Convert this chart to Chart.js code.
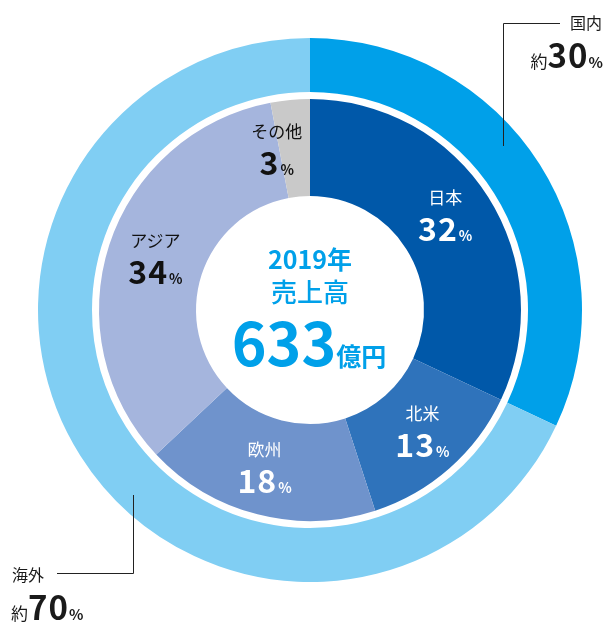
<!DOCTYPE html>
<html>
<head>
<meta charset="utf-8">
<script src="https://cdn.jsdelivr.net/npm/chart.js"></script>
<style>
  html, body { margin: 0; padding: 0; background: #fff; }
  #wrap { position: relative; width: 610px; height: 624px; font-family: "Noto Sans CJK JP", "Noto Sans", sans-serif; }
  #wrap canvas { position: absolute; left: 0; top: 0; }
  .lbl { position: absolute; transform: translate(-50%, -50%); text-align: center; white-space: nowrap; line-height: 1; }
  .lbl .name { font-size: 17px; display: block; margin-bottom: 6px; }
  .lbl .num { font-size: 32px; font-weight: 700; letter-spacing: 1px; }
  .lbl .pct { font-size: 14px; font-weight: 700; margin-left: 1px; }
  .cl { position: absolute; left: 310px; transform: translate(-50%, -50%); color: #00a0e9; line-height: 1; white-space: nowrap; }
  .outer { position: absolute; color: #1a1a1a; white-space: nowrap; line-height: 1; }
  .outer .name { font-size: 16px; }
  .outer .yaku { font-size: 17px; }
  .outer .num { font-size: 33px; font-weight: 700; letter-spacing: 1px; }
  .outer .pct { font-size: 15px; font-weight: 700; }
</style>
</head>
<body>
<div id="wrap">
  <canvas id="pie" width="610" height="624"></canvas>
  <div class="cl" style="top:258px;font-size:25px;font-weight:700;">2019年</div>
  <div class="cl" style="top:291px;font-size:26px;font-weight:500;">売上高</div>
  <div class="cl" style="top:340px;left:309px;"><span style="font-size:59px;font-weight:700;">633</span><span style="font-size:25px;font-weight:700;">億円</span></div>
  <div class="outer" style="right:8px;top:14px;"><span class="name">国内</span></div>
  <div class="outer" style="right:7px;top:38px;"><span class="yaku">約</span><span class="num">30</span><span class="pct">%</span></div>
  <div class="outer" style="left:12px;top:566px;"><span class="name">海外</span></div>
  <div class="outer" style="left:11px;top:590px;"><span class="yaku">約</span><span class="num">70</span><span class="pct">%</span></div>
</div>
<script>
// outer ring: domestic / overseas
const regionLabels = ["国内", "海外"];
const regionValues = [32, 68];
const regionColors = ["#00a0e9", "#80cef3"];

// inner ring: by area
const areaLabels = ["日本", "北米", "欧州", "アジア", "その他"];
const areaValues = [32, 13, 18, 34, 3];
const areaColors = ["#0058a9", "#2f73bb", "#6f93cc", "#a5b5dd", "#c9c9c9"];
const areaTextColors = ["#fff", "#fff", "#fff", "#111", "#111"];
const areaLabelShift = [[-2, -8], [5, -1], [-5, 0], [0, -2], [-18, 1]];

const wrap = document.getElementById("wrap");

// leader lines for the outer ring labels
const leaderLines = {
  id: "leaderLines",
  afterDraw(chart) {
    const ctx = chart.ctx;
    ctx.save();
    ctx.strokeStyle = "#222";
    ctx.lineWidth = 1;
    ctx.beginPath();
    ctx.moveTo(560, 23.5); ctx.lineTo(503.5, 23.5); ctx.lineTo(503.5, 146);
    ctx.moveTo(57, 573.5); ctx.lineTo(133.5, 573.5); ctx.lineTo(133.5, 495);
    ctx.stroke();
    ctx.restore();
  }
};

// html labels placed at each inner arc's centre
const arcLabels = {
  id: "arcLabels",
  afterDraw(chart) {
    wrap.querySelectorAll(".lbl").forEach(el => el.remove());
    const meta = chart.getDatasetMeta(2);
    meta.data.forEach((arc, i) => {
      const p = arc.tooltipPosition();
      const el = document.createElement("div");
      el.className = "lbl";
      el.style.color = areaTextColors[i];
      el.style.left = (p.x + areaLabelShift[i][0]) + "px";
      el.style.top = (p.y + areaLabelShift[i][1]) + "px";
      el.innerHTML = `<span class="name">${areaLabels[i]}</span><span class="num">${areaValues[i]}</span><span class="pct">%</span>`;
      wrap.appendChild(el);
    });
  }
};

new Chart(document.getElementById("pie").getContext("2d"), {
  type: "doughnut",
  data: {
    labels: areaLabels,
    datasets: [
      { label: "region", data: regionValues, backgroundColor: regionColors, borderWidth: 0, weight: 54 },
      { label: "gap", data: [1], backgroundColor: ["rgba(0,0,0,0)"], borderWidth: 0, weight: 7 },
      { label: "area", data: areaValues, backgroundColor: areaColors, borderWidth: 0, weight: 97 }
    ]
  },
  options: {
    responsive: false,
    animation: false,
    cutout: 114,
    layout: { padding: { left: 38, right: 28, top: 38, bottom: 42 } },
    plugins: { legend: { display: false }, tooltip: { enabled: false } },
    events: []
  },
  plugins: [leaderLines, arcLabels]
});
</script>
</body>
</html>
